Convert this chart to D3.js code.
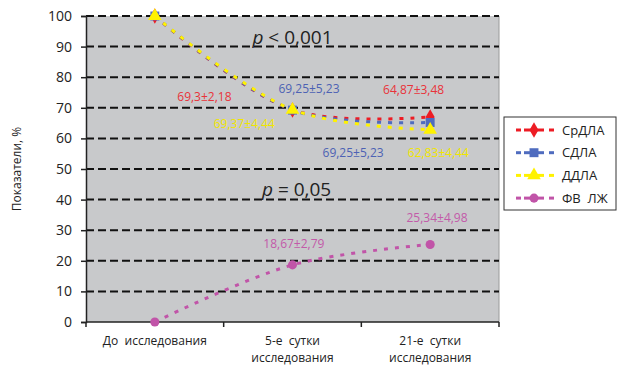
<!DOCTYPE html>
<html>
<head>
<meta charset="utf-8">
<script src="https://cdn.jsdelivr.net/npm/d3@7"></script>
<style>
  body { margin: 0; background: #fff; }
  text { font-family: "Open Sans", sans-serif; white-space: pre; }
</style>
</head>
<body>
<div id="chart"></div>
<script>
// categories and series values
const categories = ["До исследования", "5-е сутки исследования", "21-е сутки исследования"];
const categoryLines = [["До  исследования"], ["5-е  сутки", "исследования"], ["21-е  сутки", "исследования"]];
const srdla = [100, 69.3, 67];
const sdla = [100, 69.25, 65.2];
const ddla = [100, 69.37, 62.83];
const fvlv = [0, 18.67, 25.34];
const seriesNames = ["СрДЛА", "СДЛА", "ДДЛА", "ФВ  ЛЖ"];
const yTicks = [0, 10, 20, 30, 40, 50, 60, 70, 80, 90, 100];

// value labels: [text, position along categories, value position, colour key]
const valueLabels = [
  ["69,3±2,18", 0.86, 72.2, 0],
  ["69,25±5,23", 1.62, 74.8, 1],
  ["69,37±4,44", 1.15, 63.4, 2],
  ["64,87±3,48", 2.38, 74.5, 0],
  ["69,25±5,23", 1.94, 53.9, 1],
  ["62,83±4,44", 2.56, 53.9, 2],
  ["18,67±2,79", 1.51, 24.2, 3],
  ["25,34±4,98", 2.55, 32.7, 3]
];

const width = 617, height = 366;
const marginLeft = 86, marginRight = 118, marginTop = 16, marginBottom = 44;

const colors = ["#ed1c24", "#4f6cbf", "#fff200", "#c154a8"];
const textColors = ["#e8333a", "#4d62b4", "#f2e600", "#c35aa9"];

const svg = d3.select("#chart").append("svg")
  .attr("width", width)
  .attr("height", height);

const x = d3.scaleBand(categories, [marginLeft, width - marginRight]);
const y = d3.scaleLinear([0, 100], [height - marginBottom, marginTop]);
const cx = i => x(categories[i]) + x.bandwidth() / 2;

// plot background
svg.append("rect")
  .attr("x", marginLeft)
  .attr("y", marginTop)
  .attr("width", width - marginRight - marginLeft)
  .attr("height", height - marginBottom - marginTop)
  .attr("fill", "#c8c9cb");

svg.append("line")
  .attr("x1", width - marginRight).attr("x2", width - marginRight)
  .attr("y1", marginTop).attr("y2", height - marginBottom)
  .attr("stroke", "#9a9a9a").attr("stroke-width", 1);

// dashed gridlines
svg.append("g")
  .selectAll("line")
  .data(yTicks.filter(d => d > 0))
  .join("line")
  .attr("x1", marginLeft)
  .attr("x2", width - marginRight)
  .attr("y1", d => y(d))
  .attr("y2", d => y(d))
  .attr("stroke", "#111")
  .attr("stroke-width", 2)
  .attr("stroke-dasharray", "8,4");

// y axis
const yAxis = svg.append("g")
  .attr("transform", `translate(${marginLeft},0)`)
  .call(d3.axisLeft(y).tickValues(yTicks).tickSize(5).tickPadding(9));
yAxis.select(".domain").attr("stroke", "#222").attr("stroke-width", 1.5);
yAxis.selectAll(".tick line").attr("stroke", "#222").attr("stroke-width", 1.5);
yAxis.selectAll("text").attr("font-size", 14).attr("fill", "#222")
  .style("font-family", "'Open Sans', sans-serif");

// x axis
const xAxis = svg.append("g")
  .attr("transform", `translate(0,${height - marginBottom})`);
xAxis.append("line")
  .attr("x1", marginLeft).attr("x2", width - marginRight)
  .attr("stroke", "#222").attr("stroke-width", 1.5);
xAxis.selectAll("line.tick")
  .data([...categories.map(c => x(c)), width - marginRight])
  .join("line")
  .attr("class", "tick")
  .attr("x1", d => d).attr("x2", d => d)
  .attr("y1", 0).attr("y2", 5)
  .attr("stroke", "#222").attr("stroke-width", 1.5);
xAxis.selectAll("text")
  .data(categoryLines)
  .join("text")
  .attr("text-anchor", "middle")
  .attr("font-size", 12)
  .attr("fill", "#222")
  .attr("transform", (d, i) => `translate(${cx(i)},23)`)
  .selectAll("tspan")
  .data(d => d)
  .join("tspan")
  .attr("x", 0)
  .attr("dy", (d, i) => i === 0 ? 0 : 17)
  .text(d => d);

// y axis title
svg.append("text")
  .attr("transform", `translate(21,${(marginTop + height - marginBottom) / 2}) rotate(-90)`)
  .attr("text-anchor", "middle")
  .attr("font-size", 12)
  .attr("fill", "#222")
  .text("Показатели, %");

// series lines
const series = [srdla, sdla, ddla, fvlv];
const line = d3.line()
  .x((d, i) => cx(i))
  .y(d => y(d))
  .curve(d3.curveCatmullRom.alpha(0.5));

const symbols = [d3.symbolDiamond, d3.symbolSquare, d3.symbolTriangle, d3.symbolCircle];
const symbolSizes = [70, 80, 80, 65];

series.forEach((s, k) => {
  svg.append("path")
    .attr("d", line(s))
    .attr("fill", "none")
    .attr("stroke", colors[k])
    .attr("stroke-width", 3)
    .attr("stroke-dasharray", "4,7");
});
series.forEach((s, k) => {
  svg.append("g")
    .selectAll("path")
    .data(s)
    .join("path")
    .attr("transform", (d, i) => `translate(${cx(i)},${y(d)})`)
    .attr("d", d3.symbol(symbols[k], symbolSizes[k]))
    .attr("fill", colors[k]);
});

// value labels
svg.append("g")
  .selectAll("text")
  .data(valueLabels)
  .join("text")
  .attr("x", d => marginLeft + d[1] * x.bandwidth())
  .attr("y", d => y(d[2]))
  .attr("text-anchor", "middle")
  .attr("font-size", 12)
  .attr("fill", d => textColors[d[3]])
  .text(d => d[0]);

// p-value annotations
const pNotes = [["p", " < 0,001", 1.5, 90.8], ["p", " = 0,05", 1.53, 41.2]];
pNotes.forEach(n => {
  const t = svg.append("text")
    .attr("x", marginLeft + n[2] * x.bandwidth())
    .attr("y", y(n[3]))
    .attr("text-anchor", "middle")
    .attr("font-size", 19)
    .attr("fill", "#222");
  t.append("tspan").attr("font-style", "italic").text(n[0]);
  t.append("tspan").text(n[1]);
});

// legend
const legend = svg.append("g")
  .attr("transform", `translate(504,117)`);
legend.append("rect")
  .attr("width", 112)
  .attr("height", 93)
  .attr("fill", "#fff")
  .attr("stroke", "#333")
  .attr("stroke-width", 1);
seriesNames.forEach((name, k) => {
  const row = legend.append("g")
    .attr("transform", `translate(0,${13 + k * 22.7})`);
  [[12, 17], [20, 40], [45, 50]].forEach(seg => {
    row.append("line")
      .attr("x1", seg[0]).attr("x2", seg[1])
      .attr("stroke", colors[k])
      .attr("stroke-width", 3);
  });
  row.append("path")
    .attr("transform", "translate(30,0)")
    .attr("d", d3.symbol(symbols[k], symbolSizes[k]))
    .attr("fill", colors[k]);
  row.append("text")
    .attr("x", 58)
    .attr("dy", "0.35em")
    .attr("font-size", 13)
    .attr("fill", "#222")
    .text(name);
});
</script>
</body>
</html>
